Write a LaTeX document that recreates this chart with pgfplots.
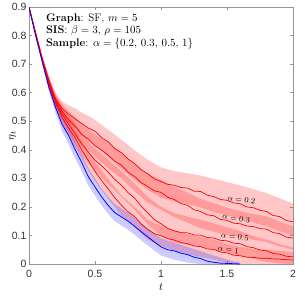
\documentclass[border=0pt]{standalone}
\usepackage{pgfplots}
\pgfplotsset{compat=1.18}
\usepackage{pgfplotstable}
\usepgfplotslibrary{fillbetween}
\usepackage{fontspec}
\newfontfamily\ticksf{Liberation Sans}

% bands: t lo hi
\pgfplotstableread{
t lo hi
0 0.900 0.900
0.05 0.805 0.815
0.1 0.710 0.730
0.15 0.630 0.660
0.2 0.560 0.600
0.25 0.520 0.570
0.3 0.495 0.555
0.35 0.475 0.545
0.4 0.450 0.530
0.45 0.432 0.518
0.5 0.415 0.505
0.6 0.375 0.470
0.7 0.335 0.435
0.8 0.295 0.398
0.9 0.260 0.365
1.0 0.232 0.338
1.1 0.220 0.325
1.2 0.210 0.318
1.3 0.198 0.310
1.4 0.182 0.298
1.5 0.170 0.287
1.6 0.158 0.275
1.7 0.145 0.262
1.8 0.132 0.248
1.9 0.115 0.230
2.0 0.100 0.212
}\bandtwo

\pgfplotstableread{
t lo hi
0 0.900 0.900
0.05 0.805 0.815
0.1 0.710 0.730
0.15 0.625 0.655
0.2 0.555 0.595
0.25 0.510 0.560
0.3 0.475 0.535
0.35 0.445 0.515
0.4 0.420 0.490
0.45 0.398 0.472
0.5 0.377 0.453
0.6 0.335 0.425
0.7 0.300 0.390
0.8 0.255 0.350
0.9 0.215 0.315
1.0 0.190 0.295
1.1 0.165 0.270
1.2 0.145 0.250
1.3 0.125 0.228
1.4 0.113 0.213
1.5 0.102 0.197
1.6 0.095 0.185
1.7 0.085 0.175
1.8 0.077 0.167
1.9 0.062 0.148
2.0 0.050 0.132
}\bandthree

\pgfplotstableread{
t lo hi
0 0.900 0.900
0.05 0.800 0.810
0.1 0.705 0.725
0.15 0.620 0.650
0.2 0.550 0.590
0.25 0.500 0.550
0.3 0.460 0.520
0.35 0.420 0.490
0.4 0.383 0.457
0.45 0.352 0.428
0.5 0.326 0.404
0.6 0.280 0.365
0.7 0.235 0.325
0.8 0.190 0.282
0.9 0.138 0.235
1.0 0.100 0.200
1.1 0.075 0.178
1.2 0.068 0.166
1.3 0.060 0.155
1.4 0.050 0.142
1.5 0.040 0.128
1.6 0.030 0.115
1.7 0.018 0.098
1.8 0.008 0.085
1.9 0.002 0.070
2.0 0.000 0.058
}\bandfive

\pgfplotstableread{
t lo hi
0 0.900 0.900
0.05 0.800 0.810
0.1 0.702 0.722
0.15 0.615 0.645
0.2 0.545 0.585
0.25 0.490 0.540
0.3 0.448 0.502
0.35 0.410 0.470
0.4 0.368 0.432
0.45 0.327 0.393
0.5 0.290 0.360
0.6 0.227 0.297
0.7 0.170 0.240
0.8 0.130 0.200
0.9 0.085 0.155
1.0 0.063 0.133
1.1 0.048 0.118
1.2 0.035 0.105
1.3 0.025 0.095
1.4 0.015 0.085
1.5 0.005 0.071
1.6 0.000 0.060
1.7 0.000 0.052
1.8 0.000 0.050
1.9 0.000 0.046
2.0 0.000 0.042
}\bandone

\pgfplotstableread{
t lo hi
0 0.900 0.900
0.05 0.795 0.805
0.1 0.700 0.720
0.15 0.605 0.635
0.2 0.530 0.570
0.25 0.465 0.515
0.3 0.420 0.480
0.35 0.370 0.430
0.4 0.325 0.385
0.45 0.275 0.335
0.5 0.240 0.300
0.55 0.205 0.265
0.6 0.175 0.235
0.65 0.150 0.210
0.7 0.135 0.195
0.75 0.120 0.180
0.8 0.102 0.162
0.85 0.083 0.143
0.9 0.065 0.125
0.95 0.047 0.107
1.0 0.030 0.090
1.1 0.015 0.075
1.2 0.005 0.060
1.3 0.000 0.045
1.4 0.000 0.030
1.5 0.000 0.015
1.6 0.000 0.005
}\bandblue

\definecolor{axgray}{RGB}{150,150,150}

\begin{document}
\begin{tikzpicture}
\begin{axis}[
  scale only axis,
  width=264pt, height=257pt,
  at={(0,0)}, anchor=south west,
  xmin=0, xmax=2, ymin=0, ymax=0.9,
  xtick={0,0.5,1,1.5,2},
  ytick={0,0.1,0.2,0.3,0.4,0.5,0.6,0.7,0.8,0.9},
  xticklabels={0,0.5,1,1.5,2},
  yticklabels={0,0.1,0.2,0.3,0.4,0.5,0.6,0.7,0.8,0.9},
  tick align=inside,
  tick style={axgray, line width=0.4pt},
  major tick length=3pt,
  axis line style={axgray, line width=0.5pt},
  ticklabel style={font=\ticksf\fontsize{10.5}{12}\selectfont, text=black!80},
  xticklabel style={yshift=-3pt},
  yticklabel style={xshift=1pt},
  xlabel={$t$}, ylabel={$\eta_t$},
  label style={font=\fontsize{11}{12}\selectfont},
  xlabel style={at={(axis description cs:0.5,-0.09)}, anchor=center},
  ylabel style={at={(axis description cs:-0.062,0.5)}, anchor=center},
  clip=true,
]
% bands
\addplot[name path=a2h, draw=none, forget plot] table[x=t,y=hi] {\bandtwo};
\addplot[name path=a2l, draw=none, forget plot] table[x=t,y=lo] {\bandtwo};
\addplot[red, fill opacity=0.22, draw=none] fill between[of=a2h and a2l];
\addplot[name path=a3h, draw=none, forget plot] table[x=t,y=hi] {\bandthree};
\addplot[name path=a3l, draw=none, forget plot] table[x=t,y=lo] {\bandthree};
\addplot[red, fill opacity=0.22, draw=none] fill between[of=a3h and a3l];
\addplot[name path=a5h, draw=none, forget plot] table[x=t,y=hi] {\bandfive};
\addplot[name path=a5l, draw=none, forget plot] table[x=t,y=lo] {\bandfive};
\addplot[red, fill opacity=0.22, draw=none] fill between[of=a5h and a5l];
\addplot[name path=a1h, draw=none, forget plot] table[x=t,y=hi] {\bandone};
\addplot[name path=a1l, draw=none, forget plot] table[x=t,y=lo] {\bandone};
\addplot[red, fill opacity=0.22, draw=none] fill between[of=a1h and a1l];
\addplot[name path=bh, draw=none, forget plot] table[x=t,y=hi] {\bandblue};
\addplot[name path=bl, draw=none, forget plot] table[x=t,y=lo] {\bandblue};
\addplot[blue, fill opacity=0.2, draw=none] fill between[of=bh and bl];
% means
\addplot[red, line width=0.7pt] coordinates {
(0,0.9)(0.05,0.81)(0.1,0.72)(0.15,0.645)(0.2,0.58)(0.25,0.545)(0.3,0.525)(0.35,0.508)(0.4,0.492)(0.45,0.476)(0.5,0.465)(0.55,0.442)(0.6,0.428)(0.65,0.404)(0.7,0.39)(0.75,0.368)(0.8,0.352)(0.85,0.330)(0.9,0.316)(0.95,0.298)(1.0,0.289)(1.05,0.279)(1.1,0.276)(1.15,0.268)(1.2,0.266)(1.25,0.255)(1.3,0.254)(1.35,0.241)(1.4,0.236)(1.45,0.226)(1.5,0.223)(1.55,0.214)(1.6,0.211)(1.65,0.200)(1.7,0.197)(1.75,0.188)(1.8,0.184)(1.85,0.170)(1.9,0.166)(1.95,0.152)(2.0,0.148)};
\addplot[red, line width=0.7pt] coordinates {
(0,0.9)(0.05,0.81)(0.1,0.72)(0.15,0.64)(0.2,0.575)(0.25,0.535)(0.3,0.505)(0.35,0.482)(0.4,0.454)(0.45,0.437)(0.5,0.414)(0.55,0.399)(0.6,0.381)(0.65,0.360)(0.7,0.346)(0.75,0.322)(0.8,0.306)(0.85,0.285)(0.9,0.271)(0.95,0.256)(1.0,0.251)(1.05,0.234)(1.1,0.226)(1.15,0.212)(1.2,0.206)(1.25,0.190)(1.3,0.184)(1.35,0.172)(1.4,0.169)(1.45,0.156)(1.5,0.153)(1.55,0.143)(1.6,0.141)(1.65,0.133)(1.7,0.131)(1.75,0.124)(1.8,0.122)(1.85,0.110)(1.9,0.106)(1.95,0.094)(2.0,0.091)};
\addplot[red, line width=0.7pt] coordinates {
(0,0.9)(0.05,0.805)(0.1,0.715)(0.15,0.635)(0.2,0.57)(0.25,0.525)(0.3,0.49)(0.35,0.456)(0.4,0.419)(0.45,0.392)(0.5,0.364)(0.55,0.344)(0.6,0.321)(0.65,0.296)(0.7,0.276)(0.75,0.250)(0.8,0.231)(0.85,0.202)(0.9,0.179)(0.95,0.155)(1.0,0.141)(1.05,0.125)(1.1,0.116)(1.15,0.110)(1.2,0.109)(1.25,0.102)(1.3,0.101)(1.35,0.093)(1.4,0.091)(1.45,0.083)(1.5,0.081)(1.55,0.073)(1.6,0.071)(1.65,0.061)(1.7,0.057)(1.75,0.049)(1.8,0.046)(1.85,0.037)(1.9,0.034)(1.95,0.027)(2.0,0.025)};
\addplot[red, line width=0.7pt] coordinates {
(0,0.9)(0.05,0.805)(0.1,0.712)(0.15,0.63)(0.2,0.565)(0.25,0.515)(0.3,0.475)(0.35,0.441)(0.4,0.399)(0.45,0.362)(0.5,0.324)(0.55,0.292)(0.6,0.263)(0.65,0.232)(0.7,0.206)(0.75,0.183)(0.8,0.166)(0.85,0.140)(0.9,0.121)(0.95,0.106)(1.0,0.099)(1.05,0.089)(1.1,0.084)(1.15,0.075)(1.2,0.071)(1.25,0.063)(1.3,0.061)(1.35,0.053)(1.4,0.051)(1.45,0.042)(1.5,0.039)(1.55,0.031)(1.6,0.029)(1.65,0.024)(1.7,0.023)(1.75,0.020)(1.8,0.020)(1.85,0.018)(1.9,0.017)(1.95,0.015)(2.0,0.014)};
\addplot[blue, line width=0.8pt] coordinates {
(0,0.9)(0.05,0.8)(0.1,0.71)(0.15,0.62)(0.2,0.55)(0.25,0.49)(0.3,0.45)(0.35,0.40)(0.4,0.355)(0.45,0.305)(0.5,0.27)(0.55,0.235)(0.6,0.205)(0.65,0.18)(0.7,0.165)(0.75,0.15)(0.8,0.132)(0.85,0.113)(0.9,0.095)(0.95,0.077)(1.0,0.06)(1.05,0.050)(1.1,0.046)(1.15,0.038)(1.2,0.033)(1.25,0.024)(1.3,0.019)(1.35,0.010)(1.4,0.006)(1.45,0.003)(1.5,0.002)(1.55,0.001)(1.6,0)};
% annotations
\node[anchor=north west, align=left, inner sep=0pt, font=\fontsize{11}{12.5}\selectfont]
  at (axis cs:0.128,0.878)
  {\textbf{Graph}: SF, $m=5$\\ \textbf{SIS}: $\beta=3$, $\rho=105$\\ \textbf{Sample}: $\alpha=\{0.2,\,0.3,\,0.5,\,1\}$};
\node[rotate=-8, font=\fontsize{8}{9}\selectfont] at (axis cs:1.61,0.226) {$\alpha=0.2$};
\node[rotate=-8, font=\fontsize{8}{9}\selectfont] at (axis cs:1.57,0.160) {$\alpha=0.3$};
\node[rotate=-8, font=\fontsize{8}{9}\selectfont] at (axis cs:1.56,0.096) {$\alpha=0.5$};
\node[rotate=-8, font=\fontsize{8}{9}\selectfont] at (axis cs:1.51,0.050) {$\alpha=1$};
\end{axis}
\pgfresetboundingbox
\useasboundingbox (-29pt,-31pt) rectangle (276pt,264pt);
\end{tikzpicture}
\end{document}
